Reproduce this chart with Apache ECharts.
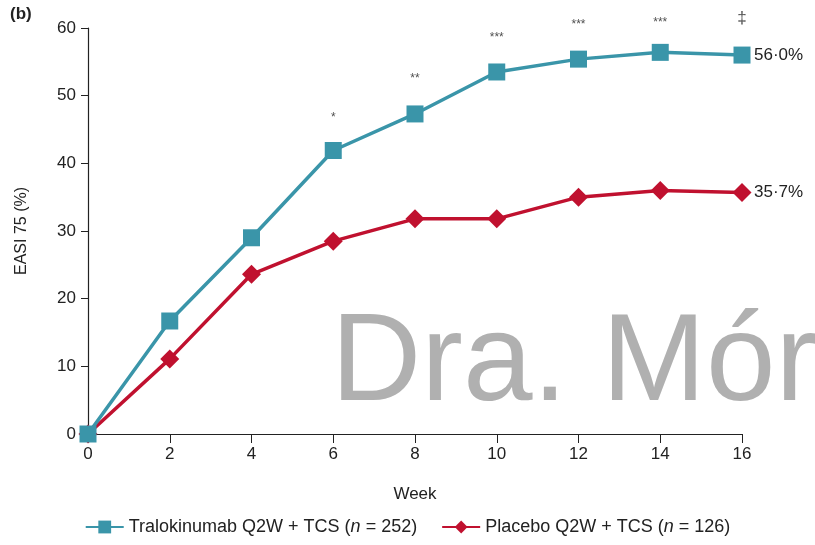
<!DOCTYPE html>
<html><head><meta charset="utf-8">
<script src="https://cdn.jsdelivr.net/npm/echarts@6/dist/echarts.min.js"></script>
<style>html,body{margin:0;padding:0;background:#fff}#c{width:815px;height:545px}</style>
</head><body><div id="c"></div>
<script>
const weeks = [0, 2, 4, 6, 8, 10, 12, 14, 16];
const tralokinumab = [0, 16.7, 29.0, 41.9, 47.3, 53.5, 55.4, 56.4, 56.0];
const placebo = [0, 11.1, 23.6, 28.5, 31.8, 31.8, 35.0, 36.0, 35.7];
const sigWeeks = [6, 8, 10, 12, 14, 16];
const sigLabels = ['*', '**', '***', '***', '***', '‡'];
const sigLevels = [46.8, 52.5, 58.6, 60.5, 60.8, 61.5];
const endLabels = ['56·0%', '35·7%'];
const yTicks = [0, 10, 20, 30, 40, 50, 60];

const teal = '#3a95a9', red = '#c0112f';
const FONT = '"Liberation Sans", Arial, sans-serif';
const chart = echarts.init(document.getElementById('c'));
chart.setOption({
  animation: false,
  textStyle: {fontFamily: FONT},
  grid: {left: 88, right: 73, top: 28, bottom: 111, containLabel: false},
  xAxis: {
    type: 'value', min: 0, max: 16, interval: 2,
    name: 'Week', nameLocation: 'middle', nameGap: 52,
    nameTextStyle: {fontSize: 17, color: '#222', fontFamily: FONT},
    axisLine: {lineStyle: {color: '#222', width: 1.2}},
    axisTick: {show: true, length: 9, lineStyle: {color: '#222'}},
    axisLabel: {fontSize: 17, color: '#222', margin: 12},
    splitLine: {show: false}
  },
  yAxis: {
    type: 'value', min: 0, max: 60, interval: 10,
    name: 'EASI 75 (%)', nameLocation: 'middle', nameGap: 58, nameRotate: 90,
    nameTextStyle: {fontSize: 16, color: '#222', fontFamily: FONT},
    axisLine: {show: true, lineStyle: {color: '#222', width: 1.2}},
    axisTick: {show: true, length: 7, lineStyle: {color: '#222'}},
    axisLabel: {fontSize: 17, color: '#222', margin: 12, formatter: v => yTicks.includes(v) ? String(v) : ''},
    splitLine: {show: false}
  },
  legend: {
    bottom: 4, left: 'center', itemWidth: 38, itemHeight: 16, itemGap: 24,
    textStyle: {fontSize: 18, color: '#222', fontFamily: FONT,
      rich: {i: {fontStyle: 'italic', fontSize: 18, color: '#222', fontFamily: FONT}}},
    formatter: name => name === 'T' ? 'Tralokinumab Q2W + TCS ({i|n} = 252)' : 'Placebo Q2W + TCS ({i|n} = 126)',
    data: [{name: 'T'}, {name: 'P'}]
  },
  series: [
    {
      name: 'P', type: 'line', data: weeks.map((w, i) => [w, placebo[i]]),
      symbol: 'diamond', symbolSize: [19, 19],
      lineStyle: {color: red, width: 3.5}, itemStyle: {color: red},
      endLabel: {show: true, formatter: endLabels[1], fontSize: 17, color: '#222', distance: 12, fontFamily: FONT},
      z: 2
    },
    {
      name: 'T', type: 'line', data: weeks.map((w, i) => [w, tralokinumab[i]]),
      symbol: 'rect', symbolSize: 17,
      lineStyle: {color: teal, width: 3.5}, itemStyle: {color: teal},
      endLabel: {show: true, formatter: endLabels[0], fontSize: 17, color: '#222', distance: 12, fontFamily: FONT},
      z: 3
    },
    {
      type: 'scatter', data: sigWeeks.map((w, i) => [w, sigLevels[i], sigLabels[i]]),
      symbolSize: 0, silent: true, clip: false,
      label: {show: true, position: 'inside',
        formatter: p => p.data[2] === '‡' ? '{d|‡}' : p.data[2],
        fontSize: 12, color: '#222', fontFamily: FONT,
        rich: {d: {fontSize: 17, color: '#222', fontFamily: FONT}}},
      labelLayout: {hideOverlap: false},
      z: 4
    }
  ],
  graphic: [
    {type: 'text', left: 10, top: 6, style: {text: '(b)', font: 'bold 17px ' + FONT, fill: '#222'}},
    {type: 'text', left: 331, top: 303, silent: true, z: -1,
      style: {text: 'Dra. Mór', font: '125px "Liberation Sans", Arial, sans-serif', fill: 'rgba(150,150,150,0.75)'}}
  ]
});
</script></body></html>
